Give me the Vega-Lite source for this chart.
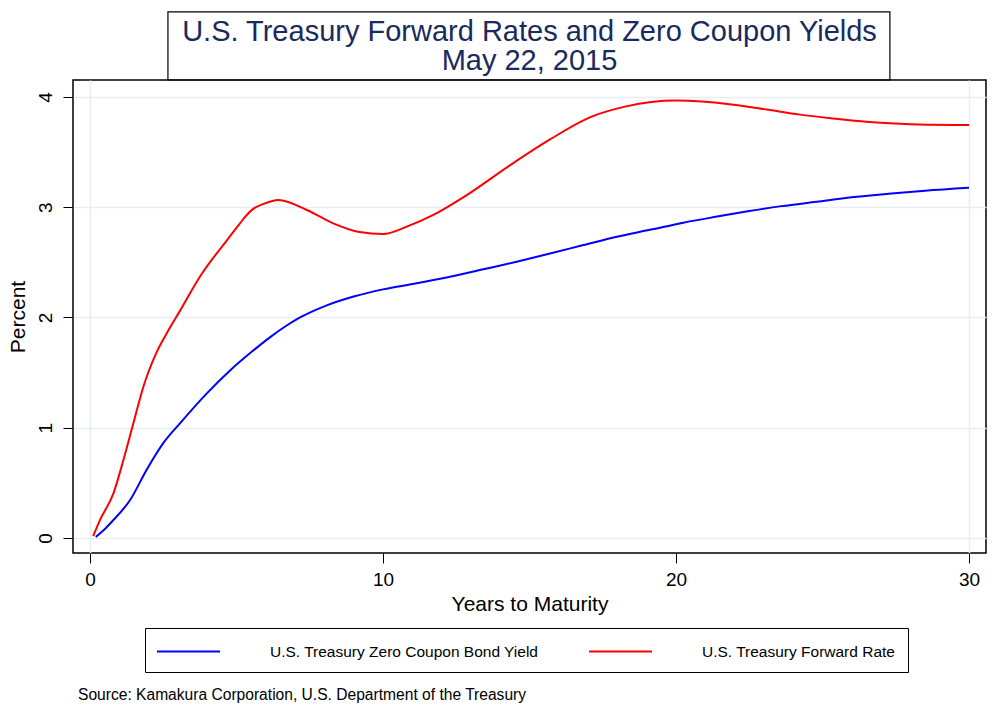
{
  "$schema": "https://vega.github.io/schema/vega-lite/v6.json",
  "width": 913,
  "height": 473,
  "autosize": {"type": "none"},
  "padding": {"left": 73, "top": 80, "right": 10, "bottom": 166},
  "background": "white",
  "config": {
    "font": "Liberation Sans",
    "view": {"stroke": "black", "strokeWidth": 1.5},
    "axis": {"labelColor": "black", "titleColor": "black", "labelFont": "Liberation Sans", "titleFont": "Liberation Sans"}
  },
  "title": {
    "text": ["U.S. Treasury Forward Rates and Zero Coupon Yields", "May 22, 2015"],
    "fontSize": 29,
    "fontWeight": "normal",
    "lineHeight": 29,
    "color": "#1a2a5c",
    "anchor": "middle",
    "offset": -65
  },
  "datasets": {
    "curves": [
      {"series": "U.S. Treasury Zero Coupon Bond Yield", "years": 0.2, "pct": 0.01},
      {"series": "U.S. Treasury Zero Coupon Bond Yield", "years": 0.5, "pct": 0.08},
      {"series": "U.S. Treasury Zero Coupon Bond Yield", "years": 0.8, "pct": 0.163},
      {"series": "U.S. Treasury Zero Coupon Bond Yield", "years": 1.37, "pct": 0.345},
      {"series": "U.S. Treasury Zero Coupon Bond Yield", "years": 1.93, "pct": 0.617},
      {"series": "U.S. Treasury Zero Coupon Bond Yield", "years": 2.5, "pct": 0.86},
      {"series": "U.S. Treasury Zero Coupon Bond Yield", "years": 3.07, "pct": 1.04},
      {"series": "U.S. Treasury Zero Coupon Bond Yield", "years": 3.98, "pct": 1.31},
      {"series": "U.S. Treasury Zero Coupon Bond Yield", "years": 4.78, "pct": 1.52},
      {"series": "U.S. Treasury Zero Coupon Bond Yield", "years": 5.57, "pct": 1.7},
      {"series": "U.S. Treasury Zero Coupon Bond Yield", "years": 6.14, "pct": 1.82},
      {"series": "U.S. Treasury Zero Coupon Bond Yield", "years": 6.7, "pct": 1.925},
      {"series": "U.S. Treasury Zero Coupon Bond Yield", "years": 7.17, "pct": 2.0},
      {"series": "U.S. Treasury Zero Coupon Bond Yield", "years": 8.08, "pct": 2.11},
      {"series": "U.S. Treasury Zero Coupon Bond Yield", "years": 9.0, "pct": 2.19},
      {"series": "U.S. Treasury Zero Coupon Bond Yield", "years": 10.0, "pct": 2.255},
      {"series": "U.S. Treasury Zero Coupon Bond Yield", "years": 11.15, "pct": 2.31},
      {"series": "U.S. Treasury Zero Coupon Bond Yield", "years": 12.29, "pct": 2.37},
      {"series": "U.S. Treasury Zero Coupon Bond Yield", "years": 13.42, "pct": 2.437},
      {"series": "U.S. Treasury Zero Coupon Bond Yield", "years": 14.56, "pct": 2.506},
      {"series": "U.S. Treasury Zero Coupon Bond Yield", "years": 15.7, "pct": 2.58},
      {"series": "U.S. Treasury Zero Coupon Bond Yield", "years": 16.84, "pct": 2.657},
      {"series": "U.S. Treasury Zero Coupon Bond Yield", "years": 17.98, "pct": 2.733},
      {"series": "U.S. Treasury Zero Coupon Bond Yield", "years": 19.11, "pct": 2.795},
      {"series": "U.S. Treasury Zero Coupon Bond Yield", "years": 20.25, "pct": 2.86},
      {"series": "U.S. Treasury Zero Coupon Bond Yield", "years": 21.4, "pct": 2.915},
      {"series": "U.S. Treasury Zero Coupon Bond Yield", "years": 22.5, "pct": 2.965},
      {"series": "U.S. Treasury Zero Coupon Bond Yield", "years": 23.6, "pct": 3.01},
      {"series": "U.S. Treasury Zero Coupon Bond Yield", "years": 24.8, "pct": 3.05},
      {"series": "U.S. Treasury Zero Coupon Bond Yield", "years": 26.0, "pct": 3.09},
      {"series": "U.S. Treasury Zero Coupon Bond Yield", "years": 27.2, "pct": 3.12},
      {"series": "U.S. Treasury Zero Coupon Bond Yield", "years": 28.5, "pct": 3.15},
      {"series": "U.S. Treasury Zero Coupon Bond Yield", "years": 30.0, "pct": 3.177},
      {"series": "U.S. Treasury Forward Rate", "years": 0.11, "pct": 0.018},
      {"series": "U.S. Treasury Forward Rate", "years": 0.34, "pct": 0.163},
      {"series": "U.S. Treasury Forward Rate", "years": 0.8, "pct": 0.405},
      {"series": "U.S. Treasury Forward Rate", "years": 1.14, "pct": 0.707},
      {"series": "U.S. Treasury Forward Rate", "years": 1.48, "pct": 1.04},
      {"series": "U.S. Treasury Forward Rate", "years": 1.82, "pct": 1.37},
      {"series": "U.S. Treasury Forward Rate", "years": 2.0, "pct": 1.51},
      {"series": "U.S. Treasury Forward Rate", "years": 2.3, "pct": 1.7},
      {"series": "U.S. Treasury Forward Rate", "years": 2.62, "pct": 1.857},
      {"series": "U.S. Treasury Forward Rate", "years": 3.07, "pct": 2.06},
      {"series": "U.S. Treasury Forward Rate", "years": 3.75, "pct": 2.37},
      {"series": "U.S. Treasury Forward Rate", "years": 4.67, "pct": 2.7},
      {"series": "U.S. Treasury Forward Rate", "years": 5.12, "pct": 2.854},
      {"series": "U.S. Treasury Forward Rate", "years": 5.35, "pct": 2.93},
      {"series": "U.S. Treasury Forward Rate", "years": 5.57, "pct": 2.985},
      {"series": "U.S. Treasury Forward Rate", "years": 5.92, "pct": 3.03},
      {"series": "U.S. Treasury Forward Rate", "years": 6.43, "pct": 3.066},
      {"series": "U.S. Treasury Forward Rate", "years": 7.4, "pct": 2.975},
      {"series": "U.S. Treasury Forward Rate", "years": 8.3, "pct": 2.854},
      {"series": "U.S. Treasury Forward Rate", "years": 9.2, "pct": 2.775},
      {"series": "U.S. Treasury Forward Rate", "years": 10.0, "pct": 2.757},
      {"series": "U.S. Treasury Forward Rate", "years": 10.81, "pct": 2.824},
      {"series": "U.S. Treasury Forward Rate", "years": 11.72, "pct": 2.93},
      {"series": "U.S. Treasury Forward Rate", "years": 12.86, "pct": 3.11},
      {"series": "U.S. Treasury Forward Rate", "years": 14.33, "pct": 3.38},
      {"series": "U.S. Treasury Forward Rate", "years": 15.7, "pct": 3.615},
      {"series": "U.S. Treasury Forward Rate", "years": 17.06, "pct": 3.815},
      {"series": "U.S. Treasury Forward Rate", "years": 18.3, "pct": 3.915},
      {"series": "U.S. Treasury Forward Rate", "years": 20.0, "pct": 3.967},
      {"series": "U.S. Treasury Forward Rate", "years": 21.96, "pct": 3.93},
      {"series": "U.S. Treasury Forward Rate", "years": 23.09, "pct": 3.886},
      {"series": "U.S. Treasury Forward Rate", "years": 24.23, "pct": 3.84},
      {"series": "U.S. Treasury Forward Rate", "years": 25.37, "pct": 3.805},
      {"series": "U.S. Treasury Forward Rate", "years": 26.5, "pct": 3.775},
      {"series": "U.S. Treasury Forward Rate", "years": 27.65, "pct": 3.758},
      {"series": "U.S. Treasury Forward Rate", "years": 28.78, "pct": 3.748},
      {"series": "U.S. Treasury Forward Rate", "years": 30.0, "pct": 3.746}
    ],
    "note": [{"text": "Source: Kamakura Corporation, U.S. Department of the Treasury"}]
  },
  "layer": [
    {
      "data": {"name": "curves"},
      "mark": {"type": "line", "strokeWidth": 2, "interpolate": "monotone"},
      "encoding": {
        "x": {
          "field": "years", "type": "quantitative",
          "scale": {"domain": [-0.58, 30.58], "nice": false, "zero": false},
          "axis": {
            "title": "Years to Maturity", "titleFontSize": 21, "titleFontWeight": "normal", "titlePadding": 4,
            "labelFontSize": 19, "labelPadding": 7, "values": [0, 10, 20, 30], "format": "d",
            "tickSize": 10, "tickColor": "black", "tickWidth": 1, "domain": false,
            "grid": true, "gridWidth": 1.5,
            "gridColor": {"condition": {"test": "datum.value == 0 || datum.value == 30", "value": "#e6eef2"}, "value": "transparent"}
          }
        },
        "y": {
          "field": "pct", "type": "quantitative",
          "scale": {"domain": [-0.136, 4.154], "nice": false, "zero": false},
          "axis": {
            "title": "Percent", "titleFontSize": 21, "titleFontWeight": "normal", "titlePadding": 8,
            "labelFontSize": 19, "labelAngle": -90, "labelAlign": "center", "labelBaseline": "bottom", "labelPadding": 8,
            "values": [0, 1, 2, 3, 4], "format": "d",
            "tickSize": 10, "tickColor": "black", "tickWidth": 1, "domain": false,
            "grid": true, "gridColor": "#e6eef2", "gridWidth": 1.5
          }
        },
        "color": {
          "field": "series", "type": "nominal",
          "scale": {"domain": ["U.S. Treasury Zero Coupon Bond Yield", "U.S. Treasury Forward Rate"], "range": ["#0000ff", "#ff0000"]},
          "legend": {
            "title": null, "orient": "none", "legendX": 72, "legendY": 548, "direction": "horizontal", "columns": 2,
            "strokeColor": "black", "fillColor": "white", "padding": 12,
            "symbolType": "M-3,0H3", "symbolSize": 441, "symbolStrokeWidth": 2, "symbolOffset": 20,
            "labelFontSize": 15.5, "labelColor": "black", "labelOffset": 70, "columnPadding": 46, "labelLimit": 400
          }
        }
      }
    },
    {
      "data": {"values": [{}]},
      "mark": {"type": "rect", "fill": null, "stroke": "black", "strokeWidth": 1.2, "clip": false},
      "encoding": {
        "x": {"datum": 2.66},
        "x2": {"datum": 27.3},
        "y": {"datum": 4.154},
        "y2": {"datum": 4.771}
      }
    },
    {
      "data": {"name": "note"},
      "mark": {"type": "text", "align": "left", "baseline": "middle", "fontSize": 15.6, "color": "black", "clip": false},
      "encoding": {
        "x": {"datum": -0.41},
        "y": {"datum": -1.424},
        "text": {"field": "text"}
      }
    }
  ]
}
